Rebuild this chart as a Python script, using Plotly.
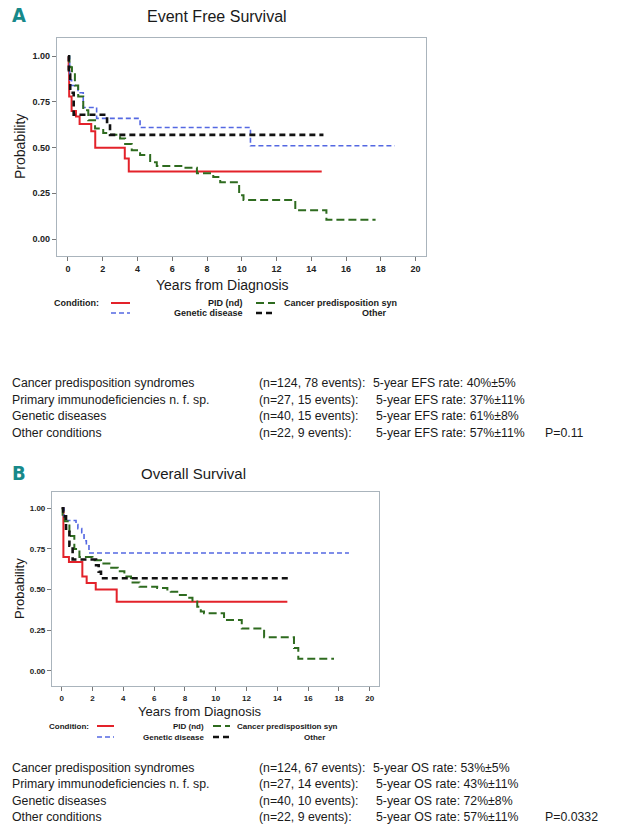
import plotly.graph_objects as go

W, H = 617, 830

# ---------------- DATA ----------------
# Panel A: Event Free Survival (time in years, survival probability)
A_pid_t = [0, 0.04, 0.07, 0.21, 0.46, 0.67, 1.34, 1.57, 3.27, 3.50, 14.6]
A_pid_s = [1, 0.93, 0.78, 0.70, 0.67, 0.63, 0.59, 0.50, 0.44, 0.37, 0.37]

A_gen_t = [0, 0.10, 0.21, 0.58, 0.88, 1.65, 4.15, 10.5, 18.8]
A_gen_s = [1, 0.87, 0.84, 0.80, 0.72, 0.66, 0.61, 0.51, 0.51]

A_oth_t = [0, 0.05, 0.13, 0.33, 2.25, 2.42, 14.7]
A_oth_s = [1, 0.90, 0.80, 0.68, 0.63, 0.57, 0.57]

A_can_t = [0, 0.08, 0.15, 0.23, 0.40, 0.59, 0.88, 1.17, 1.56, 2.03, 2.42, 3.0, 3.29,
           3.67, 4.15, 4.73, 5.11, 6.65, 7.42, 8.36, 8.76, 9.85, 10.1, 13.08, 14.87, 17.7]
A_can_s = [1, 0.97, 0.94, 0.91, 0.84, 0.78, 0.705, 0.65, 0.605, 0.58, 0.57, 0.55, 0.52,
           0.486, 0.46, 0.42, 0.40, 0.39, 0.36, 0.34, 0.31, 0.24, 0.213, 0.158, 0.105, 0.105]

# Panel B: Overall Survival
B_pid_t = [0, 0.11, 0.47, 1.34, 1.62, 2.21, 3.57, 14.65]
B_pid_s = [1, 0.70, 0.67, 0.58, 0.54, 0.50, 0.425, 0.425]

B_gen_t = [0, 0.15, 0.3, 0.93, 1.05, 1.3, 1.45, 1.6, 1.77, 18.65]
B_gen_s = [1, 0.95, 0.925, 0.90, 0.875, 0.85, 0.80, 0.775, 0.725, 0.725]

B_oth_t = [0, 0.1, 0.28, 0.5, 0.71, 2.23, 2.4, 2.55, 14.7]
B_oth_s = [1, 0.95, 0.875, 0.77, 0.685, 0.65, 0.61, 0.57, 0.57]

B_can_t = [0, 0.06, 0.2, 0.5, 0.82, 1.15, 2.0, 2.55, 3.1, 3.64, 4.07, 4.5, 5.05, 6.2, 6.86,
           7.08, 7.5, 8.16, 8.49, 8.8, 9.03, 9.24, 10.54, 11.69, 13.14, 15.08, 15.36, 17.68]
B_can_s = [1, 0.96, 0.92, 0.83, 0.75, 0.70, 0.68, 0.66, 0.634, 0.613, 0.58, 0.544, 0.517, 0.51,
           0.50, 0.486, 0.466, 0.45, 0.426, 0.395, 0.365, 0.354, 0.313, 0.26, 0.207, 0.14, 0.075, 0.075]

x_ticks = [0, 2, 4, 6, 8, 10, 12, 14, 16, 18, 20]
y_ticks = [0.00, 0.25, 0.50, 0.75, 1.00]

legend_labels = ["PID (nd)", "Genetic disease", "Cancer predisposition syn", "Other"]

table_groups = ["Cancer predisposition syndromes", "Primary immunodeficiencies n. f. sp.",
                "Genetic diseases", "Other conditions"]
A_counts = ["(n=124, 78 events):", "(n=27, 15 events):", "(n=40, 15 events):", "(n=22, 9 events):"]
A_rates = ["5-year EFS rate: 40%±5%", "5-year EFS rate: 37%±11%",
           "5-year EFS rate: 61%±8%", "5-year EFS rate: 57%±11%"]
A_p = "P=0.11"
B_counts = ["(n=124, 67 events):", "(n=27, 14 events):", "(n=40, 10 events):", "(n=22, 9 events):"]
B_rates = ["5-year OS rate: 53%±5%", "5-year OS rate: 43%±11%",
           "5-year OS rate: 72%±8%", "5-year OS rate: 57%±11%"]
B_p = "P=0.0332"

# ---------------- STYLE ----------------
RED, BLUE, BLACK, GREEN = "#e3222a", "#5468e2", "#111111", "#2e6b1f"
TEAL = "#17898a"
FRAME = "#aab4bc"
FONT = "Liberation Sans, Arial, sans-serif"


def px(x):
    return x / W


def py(y):
    return 1 - y / H


fig = go.Figure()

styles = {
    "pid": dict(color=RED, width=2, dash="solid"),
    "gen": dict(color=BLUE, width=1.6, dash="5px,3px"),
    "can": dict(color=GREEN, width=2, dash="8px,4px"),
    "oth": dict(color=BLACK, width=2.6, dash="6px,4px"),
}

for (xa, ya, series) in [
    ("x", "y", [("pid", A_pid_t, A_pid_s), ("gen", A_gen_t, A_gen_s),
                ("can", A_can_t, A_can_s), ("oth", A_oth_t, A_oth_s)]),
    ("x2", "y2", [("pid", B_pid_t, B_pid_s), ("gen", B_gen_t, B_gen_s),
                  ("can", B_can_t, B_can_s), ("oth", B_oth_t, B_oth_s)]),
]:
    for key, t, s in series:
        fig.add_trace(go.Scatter(x=t, y=s, mode="lines", line_shape="hv",
                                 line=styles[key], xaxis=xa, yaxis=ya,
                                 showlegend=False, hoverinfo="skip"))

# frame rectangles (pixel boxes)
A_box = (57, 38, 426, 256)
B_box = (52, 492, 379, 686)


def axis_common(tsize):
    return dict(showgrid=False, zeroline=False, showline=True, linecolor=FRAME,
                linewidth=1.2, mirror=True, ticks="outside", ticklen=4,
                tickcolor="#777777", tickwidth=1,
                tickfont=dict(family=FONT, size=tsize, color="#222222", weight="bold"))


xr = [-0.63, 20.6]
yr = [-0.093, 1.10]

fig.update_layout(
    width=W, height=H, autosize=False,
    margin=dict(l=0, r=0, t=0, b=0),
    paper_bgcolor="white", plot_bgcolor="white",
    xaxis=dict(domain=[px(A_box[0]), px(A_box[2])], range=xr, tickvals=x_ticks,
               anchor="y", **axis_common(9)),
    yaxis=dict(domain=[py(A_box[3]), py(A_box[1])], range=yr, tickvals=y_ticks,
               tickformat=".2f", anchor="x", **axis_common(9)),
    xaxis2=dict(domain=[px(B_box[0]), px(B_box[2])], range=xr, tickvals=x_ticks,
                anchor="y2", **axis_common(8)),
    yaxis2=dict(domain=[py(B_box[3]), py(B_box[1])], range=yr, tickvals=y_ticks,
                tickformat=".2f", anchor="x2", **axis_common(8)),
)

ann = []
shapes = []


def text(x, y, s, size, xanchor="left", color="#1a1a1a", family=FONT, weight="normal", angle=0):
    ann.append(dict(x=px(x), y=py(y), xref="paper", yref="paper", text=s, showarrow=False,
                    xanchor=xanchor, yanchor="middle", textangle=angle,
                    font=dict(family=family, size=size, color=color, weight=weight)))


# panel letters
text(10, 15, "A", 20, color=TEAL, family="DejaVu Sans Condensed, sans-serif", weight="bold")
text(10, 473, "B", 20, color=TEAL, family="DejaVu Sans Condensed, sans-serif", weight="bold")

# titles
text(217, 17, "Event Free Survival", 16, xanchor="center")
text(193, 473, "Overall Survival", 15, xanchor="center")

# axis titles
text(20, 147, "Probability", 14, xanchor="center", angle=-90)
text(222, 285, "Years from Diagnosis", 14, xanchor="center")
text(19, 589, "Probability", 13, xanchor="center", angle=-90)
text(200, 711, "Years from Diagnosis", 13, xanchor="center")


def legend(y1, y2, c_x, s1, lab_r, s2, t2_l, t2_r, fsize):
    text(c_x, y1, "Condition:", fsize, weight="bold")
    text(lab_r, y1, legend_labels[0], fsize, xanchor="right", weight="bold")
    text(lab_r, y2, legend_labels[1], fsize, xanchor="right", weight="bold")
    text(t2_l, y1, legend_labels[2], fsize, weight="bold")
    text(t2_r, y2, legend_labels[3], fsize, xanchor="right", weight="bold")
    for (xs, yy, key) in [(s1, y1, "pid"), (s1, y2, "gen"), (s2, y1, "can"), (s2, y2, "oth")]:
        st = styles[key]
        shapes.append(dict(type="line", xref="paper", yref="paper",
                           x0=px(xs[0]), x1=px(xs[1]), y0=py(yy), y1=py(yy),
                           line=dict(color=st["color"], width=st["width"], dash=st["dash"])))


legend(303, 313, 52, (111, 130), 245, (256, 275), 282, 389, 9)
legend(726, 737, 47, (97, 114), 206, (213, 230), 235, 327, 8)

# tables
TS = 12.3
A_rows = [383, 399.5, 416, 432.5]
B_rows = [768, 784.3, 800.6, 817]
for rows, counts, rates, pval in [(A_rows, A_counts, A_rates, A_p), (B_rows, B_counts, B_rates, B_p)]:
    for i in range(4):
        y = rows[i]
        text(10, y, table_groups[i], TS)
        text(257, y, counts[i], TS)
        text(371 if i == 0 else 374, y, rates[i], TS)
    text(543, rows[3], pval, TS)

fig.update_layout(annotations=ann, shapes=shapes)

fig.write_html("out.html", config={"displayModeBar": False},
               post_script="document.body.style.margin='0';document.body.style.overflow='hidden';")
